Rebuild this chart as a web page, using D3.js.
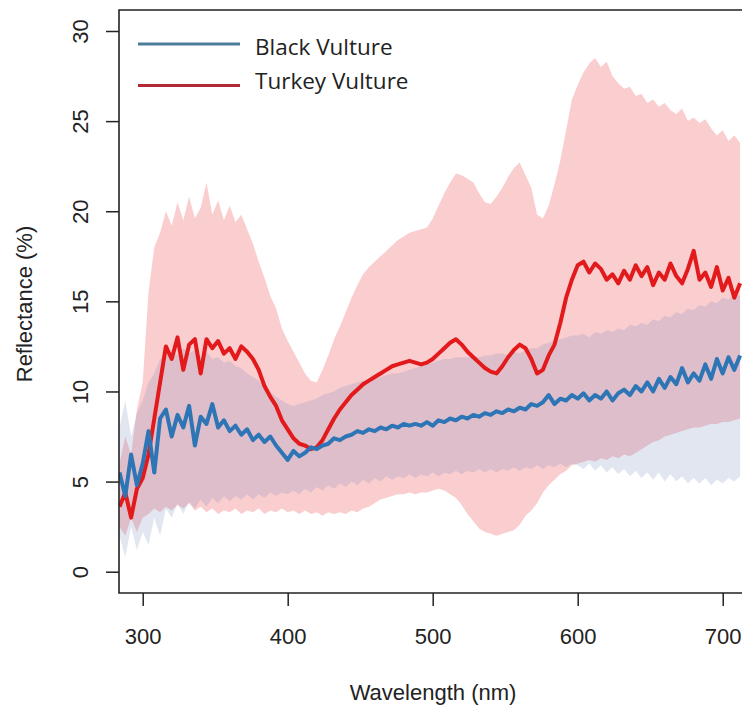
<!DOCTYPE html>
<html><head><meta charset="utf-8">
<script src="https://cdn.jsdelivr.net/npm/d3@7"></script>
<style>body{margin:0;background:#fff}svg{display:block}</style>
</head><body><svg id="chart" width="742" height="708"></svg>
<script>
// Wavelength grid (nm)
const wavelength = [
284,288,292,296,300,304,308,312,316,320,
324,328,332,336,340,344,348,352,356,360,
364,368,372,376,380,384,388,392,396,400,
404,408,412,416,420,424,428,432,436,440,
444,448,452,456,460,464,468,472,476,480,
484,488,492,496,500,504,508,512,516,520,
524,528,532,536,540,544,548,552,556,560,
564,568,572,576,580,584,588,592,596,600,
604,608,612,616,620,624,628,632,636,640,
644,648,652,656,660,664,668,672,676,680,
684,688,692,696,700,704,708,712];

// Turkey Vulture mean reflectance (%)
const turkeyMean = [
3.6,4.4,3.0,4.6,5.2,6.5,8.5,10.5,12.5,11.8,
13.0,11.2,12.6,12.9,11.0,12.9,12.4,12.8,12.1,12.4,
11.8,12.5,12.2,11.8,11.2,10.3,9.7,9.2,8.4,7.9,
7.4,7.1,7.0,6.8,6.9,7.3,7.9,8.5,9.0,9.4,
9.8,10.1,10.4,10.6,10.8,11.0,11.2,11.4,11.5,11.6,
11.7,11.6,11.5,11.6,11.8,12.1,12.4,12.7,12.9,12.6,
12.2,11.9,11.6,11.3,11.1,11.0,11.4,11.9,12.3,12.6,
12.4,11.8,11.0,11.2,12.0,12.6,13.8,15.2,16.2,17.0,
17.2,16.6,17.1,16.8,16.2,16.5,16.0,16.7,16.2,17.0,
16.4,16.9,15.9,16.6,16.2,17.1,16.4,16.0,16.8,17.8,
16.2,16.6,15.8,16.9,15.6,16.3,15.2,16.0];

// Turkey Vulture band upper edge
const turkeyUpper = [
6.0,7.5,6.5,9.0,10.5,15.5,18.0,18.8,20.0,19.2,
20.5,19.5,20.8,19.6,20.2,21.6,19.8,20.6,19.5,20.3,
19.4,19.8,19.0,18.2,17.2,16.3,15.3,14.6,13.5,12.8,
12.2,11.6,11.0,10.6,10.5,11.2,12.0,12.9,13.6,14.4,
15.2,15.9,16.5,16.9,17.2,17.5,17.8,18.1,18.4,18.6,
18.8,18.9,19.0,19.1,19.6,20.3,21.0,21.6,22.1,22.0,
21.8,21.6,21.0,20.5,20.4,20.8,21.3,21.9,22.4,22.7,
22.0,21.3,19.8,19.6,20.3,21.5,22.8,24.5,26.2,27.0,
27.7,28.2,28.5,28.0,28.3,27.5,27.1,26.8,26.9,26.4,
26.5,26.0,26.2,25.8,26.0,25.6,25.4,25.7,25.0,25.2,
24.9,25.1,24.6,24.2,24.5,23.9,24.2,23.8];

// Turkey Vulture band lower edge
const turkeyLower = [
2.5,2.0,3.0,2.2,3.0,3.2,3.5,3.3,3.6,3.4,
3.7,3.5,3.8,3.4,3.6,3.3,3.5,3.2,3.4,3.3,
3.5,3.2,3.4,3.3,3.5,3.2,3.4,3.3,3.5,3.3,
3.4,3.2,3.4,3.2,3.3,3.1,3.3,3.2,3.3,3.2,
3.4,3.3,3.5,3.6,3.8,4.0,4.1,4.2,4.3,4.3,
4.4,4.3,4.4,4.4,4.5,4.6,4.5,4.3,4.1,3.7,
3.2,2.8,2.4,2.2,2.1,2.0,2.1,2.2,2.3,2.6,
3.1,3.4,3.8,4.4,4.8,5.1,5.4,5.6,5.9,6.0,
6.1,6.2,6.1,6.3,6.2,6.4,6.3,6.5,6.4,6.6,
6.8,7.0,7.2,7.3,7.5,7.6,7.7,7.8,7.9,8.0,
8.0,8.1,8.2,8.2,8.3,8.3,8.4,8.5];

// Black Vulture mean reflectance (%)
const blackMean = [
5.5,4.2,6.5,4.8,6.0,7.8,5.5,8.5,9.0,7.5,
8.7,8.0,9.2,7.0,8.6,8.2,9.3,8.0,8.4,7.8,
8.1,7.6,7.9,7.3,7.6,7.2,7.5,7.0,6.6,6.2,
6.7,6.4,6.6,6.9,6.8,7.0,7.1,7.4,7.3,7.5,
7.6,7.8,7.7,7.9,7.8,8.0,7.9,8.1,8.0,8.2,
8.1,8.2,8.1,8.3,8.1,8.4,8.3,8.5,8.4,8.6,
8.5,8.7,8.6,8.8,8.7,8.9,8.8,9.0,8.9,9.1,
9.0,9.3,9.2,9.4,9.8,9.3,9.6,9.5,9.8,9.6,
9.9,9.5,9.8,9.6,10.0,9.5,9.9,10.1,9.8,10.3,
10.0,10.5,10.0,10.7,10.2,10.8,10.4,11.3,10.5,11.0,
10.6,11.5,10.7,11.8,11.0,11.9,11.2,12.0];

// Black Vulture band upper edge
const blackUpper = [
8.0,9.5,7.5,8.8,9.5,10.5,11.0,11.8,12.0,12.2,
12.0,12.4,12.1,12.3,11.9,12.2,11.8,11.9,11.6,11.7,
11.4,11.3,11.0,10.8,10.6,10.3,10.0,9.7,9.5,9.3,
9.2,9.3,9.4,9.5,9.6,9.8,9.9,10.0,10.2,10.3,
10.4,10.5,10.6,10.6,10.7,10.8,10.9,11.0,11.0,11.1,
11.2,11.3,11.4,11.5,11.6,11.7,11.8,11.8,11.9,11.9,
11.9,12.0,11.9,12.0,12.0,12.1,12.1,12.0,12.2,12.1,
12.3,12.4,12.4,12.6,12.7,12.8,12.9,13.0,13.1,13.1,
13.2,13.0,13.3,13.2,13.4,13.3,13.5,13.4,13.7,13.6,
13.8,13.7,14.0,13.9,14.2,14.1,14.4,14.3,14.6,14.5,
14.8,14.7,15.0,14.9,15.2,15.1,15.4,15.3];

// Black Vulture band lower edge
const blackLower = [
2.0,0.8,2.5,1.2,2.2,1.5,3.0,2.0,3.5,3.0,
3.8,3.2,3.9,3.5,4.0,3.6,4.1,3.8,4.2,3.9,
4.2,4.0,4.3,4.0,4.3,4.1,4.4,4.2,4.4,4.3,
4.5,4.3,4.6,4.4,4.7,4.5,4.8,4.6,4.9,4.7,
5.0,4.8,5.1,4.9,5.2,5.0,5.3,5.1,5.3,5.2,
5.4,5.2,5.4,5.3,5.5,5.3,5.5,5.4,5.6,5.4,
5.6,5.5,5.7,5.5,5.7,5.5,5.7,5.6,5.8,5.6,
5.8,5.7,5.9,5.7,5.9,5.8,6.0,5.8,6.0,5.9,
5.7,6.0,5.6,5.9,5.5,5.8,5.4,5.7,5.3,5.6,
5.2,5.5,5.1,5.5,5.0,5.4,5.0,5.3,4.9,5.2,
4.9,5.2,4.8,5.1,4.9,5.2,5.0,5.3];

const xTicks = [300, 400, 500, 600, 700];
const yTicks = [0, 5, 10, 15, 20, 25, 30];
const seriesNames = ["Black Vulture", "Turkey Vulture"];
const xTitle = "Wavelength (nm)";
const yTitle = "Reflectance (%)";

const svg = d3.select('#chart');
svg.append('rect').attr('width', 742).attr('height', 708).attr('fill', '#fff');

const x = d3.scaleLinear().domain([300, 700]).range([142.7, 722.7]);
const y = d3.scaleLinear().domain([0, 30]).range([571.7, 31]);
const P = {left: 119, top: 10, bottom: 593, right: 770};

svg.append('defs').append('clipPath').attr('id', 'clip')
  .append('rect').attr('x', P.left).attr('y', P.top)
  .attr('width', P.right - P.left).attr('height', P.bottom - P.top);

const rows = wavelength.map((w, i) => ({
  w, tm: turkeyMean[i], tu: turkeyUpper[i], tl: turkeyLower[i],
  bm: blackMean[i], bu: blackUpper[i], bl: blackLower[i]
}));

const g = svg.append('g').attr('clip-path', 'url(#clip)');

g.append('path').datum(rows)
  .attr('d', d3.area().x(d => x(d.w)).y0(d => y(d.tl)).y1(d => y(d.tu)))
  .attr('fill', 'rgba(240,90,95,0.3)');
g.append('path').datum(rows)
  .attr('d', d3.area().x(d => x(d.w)).y0(d => y(d.bl)).y1(d => y(d.bu)))
  .attr('fill', 'rgba(110,130,185,0.2)');

g.append('path').datum(rows)
  .attr('d', d3.line().x(d => x(d.w)).y(d => y(d.tm)))
  .attr('fill', 'none').attr('stroke', '#e31a1c').attr('stroke-width', 4)
  .attr('stroke-linejoin', 'round');
g.append('path').datum(rows)
  .attr('d', d3.line().x(d => x(d.w)).y(d => y(d.bm)))
  .attr('fill', 'none').attr('stroke', '#2e75b6').attr('stroke-width', 4)
  .attr('stroke-linejoin', 'round');

// Box
svg.append('path')
  .attr('d', `M${P.right},${P.top}H${P.left}V${P.bottom}H${P.right}`)
  .attr('fill', 'none').attr('stroke', '#222').attr('stroke-width', 1.6);

const fontFam = "'Liberation Sans', Arial, sans-serif";

// X axis
const gx = svg.append('g').attr('transform', `translate(0,${P.bottom})`)
  .call(d3.axisBottom(x).tickValues(xTicks).tickSize(13).tickFormat(d3.format('d')));
gx.select('.domain').remove();
gx.selectAll('line').attr('stroke', '#222').attr('stroke-width', 1.5);
gx.selectAll('text').attr('y', 51).attr('dy', null)
  .attr('font-size', 22).attr('font-family', fontFam).attr('fill', '#222');

// Y axis
const gy = svg.append('g').attr('transform', `translate(${P.left},0)`)
  .call(d3.axisLeft(y).tickValues(yTicks).tickSize(13).tickFormat(d3.format('d')));
gy.select('.domain').remove();
gy.selectAll('line').attr('stroke', '#222').attr('stroke-width', 1.5);
gy.selectAll('text').attr('x', 0).attr('y', 0).attr('dy', null)
  .attr('transform', 'translate(-31,0) rotate(-90)')
  .attr('text-anchor', 'middle')
  .attr('font-size', 22).attr('font-family', fontFam).attr('fill', '#222');

// Titles
svg.append('text').attr('x', 433).attr('y', 700).attr('text-anchor', 'middle')
  .attr('font-size', 22).attr('font-family', fontFam).attr('fill', '#222').text(xTitle);
svg.append('text').attr('transform', 'translate(32,304) rotate(-90)').attr('text-anchor', 'middle')
  .attr('font-size', 22).attr('font-family', fontFam).attr('fill', '#222').text(yTitle);

// Legend
const legendColors = ['#4d7c9c', '#b22a35'];
const legendLineY = [44, 85.5];
const legendTextY = [55, 89];
seriesNames.forEach((name, i) => {
  svg.append('line').attr('x1', 138).attr('x2', 240)
    .attr('y1', legendLineY[i]).attr('y2', legendLineY[i])
    .attr('stroke', legendColors[i]).attr('stroke-width', 3);
  svg.append('text').attr('x', 255).attr('y', legendTextY[i])
    .attr('font-size', 22.5).attr('font-family', "'Open Sans', sans-serif")
    .attr('fill', '#222').text(name);
});
</script></body></html>
